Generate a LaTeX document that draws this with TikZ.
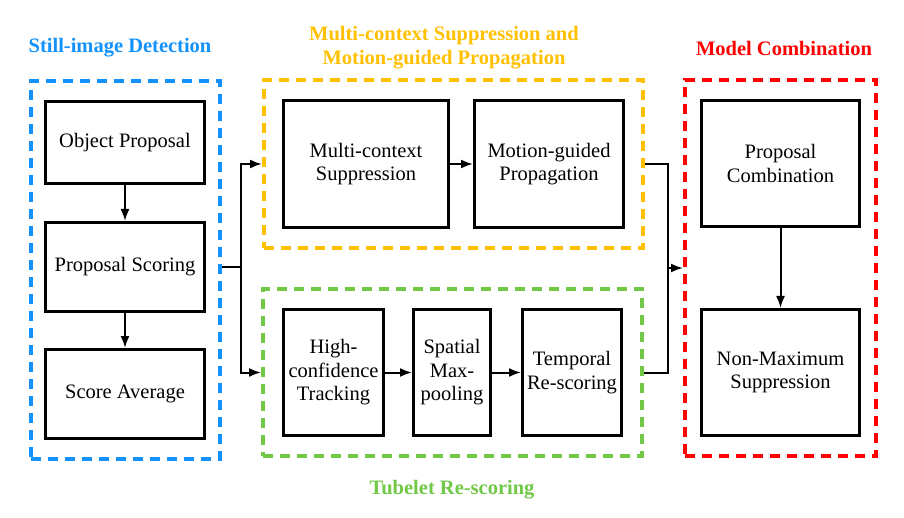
\documentclass[tikz,border=0pt]{standalone}
\usepackage{fontspec}
\setmainfont{Liberation Serif}
\usetikzlibrary{arrows.meta,positioning,fit}
\definecolor{stillblue}{RGB}{18,146,250}
\definecolor{msyellow}{RGB}{255,192,0}
\definecolor{tubegreen}{RGB}{112,200,70}
\definecolor{combred}{RGB}{255,0,0}

\begin{document}
\begin{tikzpicture}
[x=1pt,y=-1pt,
 every node/.style={font=\fontsize{20.5pt}{23.5pt}\selectfont},
 place/.style={rectangle,draw=black,line width=3pt,align=center,inner sep=0pt},
 group/.style={rectangle,draw=#1,line width=4pt,dash pattern=on 10pt off 7pt,inner ysep=19pt},
 title/.style={font=\bfseries\fontsize{20.5pt}{24pt}\selectfont,align=center,text=#1},
 link/.style={line width=2pt},
 arr/.style={line width=2pt,-{Latex[length=12pt,width=9pt]}}]
\useasboundingbox (0,0) rectangle (904,518);
\node[place,minimum width=159pt,minimum height=82pt] (objprop) at (125,142.5) {Object Proposal};
\node[place,minimum width=159pt,minimum height=89pt] (propscore) [below=36pt of objprop] {Proposal Scoring};
\node[place,minimum width=159pt,minimum height=89pt] (scoreavg) [below=35pt of propscore] {Score Average};
\node[place,minimum width=165pt,minimum height=127pt] (mcs) at (366,164) {Multi-context\\Suppression};
\node[place,minimum width=149pt,minimum height=127pt] (mgp) [right=23pt of mcs] {Motion-guided\\Propagation};
\node[place,minimum width=100pt,minimum height=126pt] (hct) at (333.5,372.5) {High-\\confidence\\Tracking};
\node[place,minimum width=77pt,minimum height=126pt] (spm) [right=27pt of hct] {Spatial\\Max-\\pooling};
\node[place,minimum width=99pt,minimum height=126pt] (tmp) [right=29pt of spm] {Temporal\\Re-scoring};
\node[place,minimum width=158pt,minimum height=126pt] (pc) at (780.5,163.5) {Proposal\\Combination};
\node[place,minimum width=158pt,minimum height=126pt] (nms) [below=80pt of pc] {Non-Maximum\\Suppression};
\node[group=stillblue,inner xsep=13.5pt,fit=(objprop) (scoreavg)] (still) {};
\node[group=msyellow,inner xsep=18pt,fit=(mcs) (mgp)] (ms) {};
\node[group=tubegreen,inner xsep=19pt,fit=(hct) (tmp)] (tube) {};
\node[group=combred,inner xsep=15pt,fit=(pc) (nms)] (comb) {};
\node[title=stillblue] (stilltitle) at (120,48) {Still-image Detection};
\node[title=msyellow] (mstitle) at (444,48) {Multi-context Suppression and\\Motion-guided Propagation};
\node[title=combred] (combtitle) at (784,48) {Model Combination};
\node[title=tubegreen] (tubetitle) at (452,490) {Tubelet Re-scoring};
\draw[arr] (objprop) -- (propscore);
\draw[arr] (propscore) -- (scoreavg);
\draw[link] (still.east |- propscore) -- ++(19,0) coordinate (split);
\draw[arr] (split) |- (ms.west |- mcs);
\draw[arr] (split) |- (tube.west |- hct);
\draw[arr] (mcs) -- (mgp);
\draw[arr] (hct) -- (spm);
\draw[arr] (spm) -- (tmp);
\draw[link] (ms.east |- mgp) -- ++(23,0) coordinate (merge) |- (tube.east |- tmp);
\draw[arr] (merge |- comb.west) -- (comb.west);
\draw[arr] (pc) -- (nms);
\end{tikzpicture}
\end{document}
